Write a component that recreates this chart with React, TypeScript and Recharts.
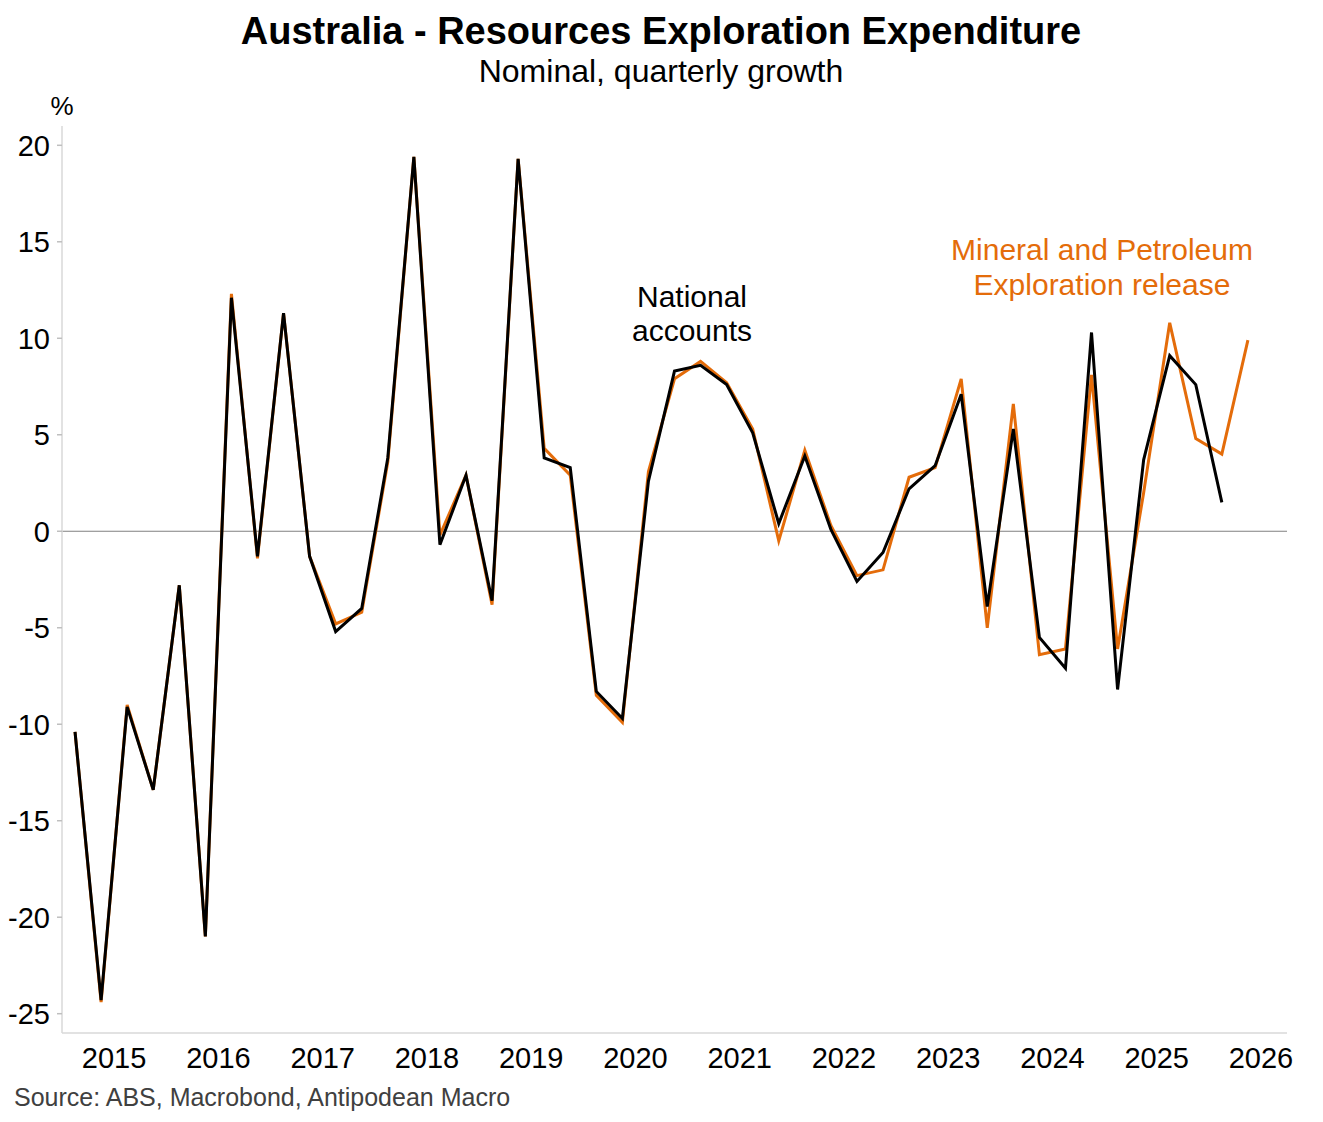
import React from 'react';
import { LineChart, Line, XAxis, YAxis, ReferenceLine } from 'recharts';

const FONT = '"Liberation Sans", Arial, sans-serif';
const ORANGE = '#E46C0A';

// quarterly observations, 2015 Q1 .. 2026 Q2
const quarters = [
  '2015 Q1', '2015 Q2', '2015 Q3', '2015 Q4',
  '2016 Q1', '2016 Q2', '2016 Q3', '2016 Q4',
  '2017 Q1', '2017 Q2', '2017 Q3', '2017 Q4',
  '2018 Q1', '2018 Q2', '2018 Q3', '2018 Q4',
  '2019 Q1', '2019 Q2', '2019 Q3', '2019 Q4',
  '2020 Q1', '2020 Q2', '2020 Q3', '2020 Q4',
  '2021 Q1', '2021 Q2', '2021 Q3', '2021 Q4',
  '2022 Q1', '2022 Q2', '2022 Q3', '2022 Q4',
  '2023 Q1', '2023 Q2', '2023 Q3', '2023 Q4',
  '2024 Q1', '2024 Q2', '2024 Q3', '2024 Q4',
  '2025 Q1', '2025 Q2', '2025 Q3', '2025 Q4',
  '2026 Q1', '2026 Q2',
];

const nationalAccounts = [
  -10.4, -24.3, -9.1, -13.4, -2.8, -21.0, 12.1, -1.3, 11.3, -1.3,
  -5.2, -4.0, 3.8, 19.4, -0.7, 2.9, -3.6, 19.3, 3.8, 3.3,
  -8.3, -9.7, 2.6, 8.3, 8.6, 7.6, 5.1, 0.4, 3.9, 0.1,
  -2.6, -1.1, 2.2, 3.4, 7.1, -3.9, 5.3, -5.5, -7.1, 10.3,
  -8.2, 3.7, 9.1, 7.6, 1.5, null,
];

const mineralPetroleum = [
  -10.4, -24.4, -9.0, -13.4, -2.8, -21.0, 12.3, -1.4, 11.3, -1.3,
  -4.8, -4.2, 3.6, 19.4, -0.2, 2.9, -3.8, 19.3, 4.3, 2.9,
  -8.5, -9.9, 3.1, 7.9, 8.8, 7.7, 5.3, -0.5, 4.2, 0.3,
  -2.3, -2.0, 2.8, 3.3, 7.9, -5.0, 6.6, -6.4, -6.1, 8.1,
  -6.1, 2.0, 10.8, 4.8, 4.0, 9.9,
];

const yearBoundaries = [2015, 2016, 2017, 2018, 2019, 2020, 2021, 2022, 2023, 2024, 2025, 2026];
const yearLabels = [2015.5, 2016.5, 2017.5, 2018.5, 2019.5, 2020.5, 2021.5, 2022.5, 2023.5, 2024.5, 2025.5, 2026.5];
const yTicks = [-25, -20, -15, -10, -5, 0, 5, 10, 15, 20];

// place each quarter at the middle of its three months
const toTime = (q: string) => {
  const [y, qq] = q.split(' Q');
  return Number(y) + (Number(qq) - 1) / 4 + 0.125;
};

const data = quarters.map((q, i) => ({
  t: toTime(q),
  na: nationalAccounts[i],
  mp: mineralPetroleum[i],
}));

const textAt = (x: number, y: number, extra: React.CSSProperties = {}): React.CSSProperties => ({
  position: 'absolute',
  left: x,
  top: y,
  transform: 'translate(-50%, -50%)',
  whiteSpace: 'nowrap',
  lineHeight: 1,
  fontFamily: FONT,
  ...extra,
});

export default function App() {
  return (
    <div style={{ position: 'absolute', left: 0, top: 0, width: 1323, height: 1122, background: '#fff', fontFamily: FONT }}>
      <LineChart
        width={1323}
        height={1122}
        data={data}
        margin={{ top: 126, right: 36, left: 0, bottom: 0 }}
      >
        <XAxis
          xAxisId="grid"
          dataKey="t"
          type="number"
          domain={[2015, 2026.75]}
          ticks={yearBoundaries}
          interval={0}
          height={1}
          tick={false}
          tickSize={5}
          axisLine={{ stroke: '#d9d9d9', strokeWidth: 1.5 }}
          tickLine={{ stroke: '#595959', strokeWidth: 1.5 }}
          allowDataOverflow
        />
        <XAxis
          xAxisId="labels"
          dataKey="t"
          type="number"
          domain={[2015, 2026.75]}
          ticks={yearLabels}
          interval={0}
          height={88}
          axisLine={false}
          tickLine={false}
          tickSize={0}
          tickMargin={13}
          tickFormatter={(v: number) => String(Math.floor(v))}
          tick={{ fill: '#000', fontSize: 29, fontFamily: FONT }}
          allowDataOverflow
        />
        <YAxis
          width={62}
          domain={[-26, 21]}
          ticks={yTicks}
          interval={0}
          tickSize={5}
          tickMargin={7}
          axisLine={{ stroke: '#d9d9d9', strokeWidth: 1.5 }}
          tickLine={{ stroke: '#bfbfbf', strokeWidth: 1.5 }}
          tick={{ fill: '#000', fontSize: 29, fontFamily: FONT }}
          allowDataOverflow
        />
        <ReferenceLine xAxisId="grid" y={0} stroke="#808080" strokeWidth={1.2} />
        <Line
          xAxisId="grid"
          type="linear"
          dataKey="mp"
          stroke={ORANGE}
          strokeWidth={3}
          dot={false}
          activeDot={false}
          isAnimationActive={false}
        />
        <Line
          xAxisId="grid"
          type="linear"
          dataKey="na"
          stroke="#000"
          strokeWidth={3}
          dot={false}
          activeDot={false}
          connectNulls={false}
          isAnimationActive={false}
        />
      </LineChart>

      <div style={textAt(661, 31, { fontSize: 38, fontWeight: 700, color: '#000' })}>
        Australia - Resources Exploration Expenditure
      </div>
      <div style={textAt(661, 71, { fontSize: 32, color: '#000' })}>
        Nominal, quarterly growth
      </div>
      <div style={textAt(62, 106, { fontSize: 26, color: '#000' })}>%</div>

      <div style={textAt(692, 314, { fontSize: 30, color: '#000', lineHeight: '34px', textAlign: 'center' })}>
        National
        <br />
        accounts
      </div>
      <div style={textAt(1102, 267, { fontSize: 30, color: ORANGE, lineHeight: '35px', textAlign: 'center' })}>
        Mineral and Petroleum
        <br />
        Exploration release
      </div>

      <div style={{ position: 'absolute', left: 14, top: 1085, fontSize: 25, color: '#404040', fontFamily: FONT, lineHeight: 1, whiteSpace: 'nowrap' }}>
        Source: ABS, Macrobond, Antipodean Macro
      </div>
    </div>
  );
}
